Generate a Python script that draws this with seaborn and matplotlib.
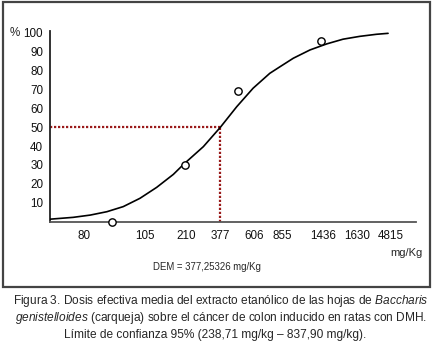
import matplotlib
matplotlib.use('Agg')
from matplotlib import pyplot as plt
from matplotlib import font_manager
from matplotlib.patches import Rectangle
from matplotlib.transforms import ScaledTranslation
import seaborn as sns
import pandas as pd

# tick positions (categorical dose steps) and their labels
dose_pos = [0, 1, 2, 3, 4, 5, 6, 7, 8, 9]
dose_labels = ['80', '', '105', '210', '377', '606', '855', '1436', '1630', '4815']

# observed points (position on dose axis, % response)
obs_pos = [0.82, 2.96, 4.52, 6.95]
obs_pct = [0, 30, 69, 96]

# fitted curve
curve_pos = [-1.02, -0.32, 0.18, 0.67, 1.15, 1.64, 2.13, 2.62, 2.93, 3.50, 4.0,
             4.48, 4.96, 5.45, 5.75, 6.14, 6.63, 7.12, 7.60, 8.09, 8.58, 8.92]
curve_pct = [1.2, 2.2, 3.4, 5.2, 7.9, 12.3, 18.1, 25.0, 30.5, 39.7, 50.0,
             60.9, 70.7, 78.6, 82.1, 86.6, 91.0, 94.2, 96.7, 98.2, 99.3, 99.8]

dem_pos = [4.0]
dem_pct = [50]

y_ticks = [10, 20, 30, 40, 50, 60, 70, 80, 90, 100]

sns.set_style('white')
names = {f.name for f in font_manager.fontManager.ttflist}
base = 'Liberation Sans' if 'Liberation Sans' in names else 'DejaVu Sans'
plt.rcParams['font.family'] = [base, 'DejaVu Sans']
plt.rcParams['mathtext.fontset'] = 'custom'
plt.rcParams['mathtext.rm'] = base
plt.rcParams['mathtext.it'] = base + ':italic'

W, H = 435, 345
fig = plt.figure(figsize=(W / 100, H / 100), dpi=100)
fig.patch.set_facecolor('white')

# outer frame
fig.patches.append(Rectangle((3 / W, 1 - 287 / H), 427 / W, 285 / H,
                             transform=fig.transFigure, fill=False,
                             edgecolor='#444444', lw=1.6))

ax = fig.add_axes([50 / W, 1 - 221.5 / H, 366 / W, 190.8 / H])
curve_df = pd.DataFrame({'pos': curve_pos, 'pct': curve_pct})
obs_df = pd.DataFrame({'pos': obs_pos, 'pct': obs_pct})

xmin, xmax = -1.0, 9.74
red = '#9a1a1a'
ax.plot([xmin, dem_pos[0]], [dem_pct[0], dem_pct[0]], color=red, lw=1.6,
        linestyle=(0, (1, 0.8)), zorder=2)
ax.plot([dem_pos[0], dem_pos[0]], [0, dem_pct[0]], color=red, lw=1.6,
        linestyle=(0, (1, 0.8)), zorder=2)

sns.lineplot(data=curve_df, x='pos', y='pct', ax=ax, color='black', lw=1.2,
             zorder=3, sort=False)
sns.scatterplot(data=obs_df, x='pos', y='pct', ax=ax, s=28, marker='o',
                facecolor='white', edgecolor='black', linewidth=1.0,
                zorder=4, clip_on=False)

ax.set_xlim(xmin, xmax)
ax.set_ylim(0, 101.2)
ax.set_xticks(dose_pos)
ax.set_xticklabels(dose_labels)
ax.set_yticks(y_ticks)
ax.set_xlabel('')
ax.set_ylabel('')
for s in ['top', 'right']:
    ax.spines[s].set_visible(False)
ax.spines['left'].set_color('#222222')
ax.spines['left'].set_linewidth(1.3)
ax.spines['bottom'].set_color('#555555')
ax.spines['bottom'].set_linewidth(1.3)
ax.tick_params(axis='both', direction='inout', length=4, width=1.1,
               labelsize=8.4, colors='#111111')
ax.tick_params(axis='x', pad=4)
ax.tick_params(axis='y', pad=3)
ax.set_facecolor('white')

# some labels sit a bit left of their tick in the original
shift = {'105': -0.07, '855': -0.06}
for lab in ax.get_xticklabels():
    dx = shift.get(lab.get_text())
    if dx:
        lab.set_transform(lab.get_transform() + ScaledTranslation(dx, 0, fig.dpi_scale_trans))

fig.text(10 / W, 1 - 33 / H, '%', fontsize=8.4, va='center', ha='left')
fig.text(423 / W, 1 - 253 / H, 'mg/Kg', fontsize=8.0, va='center', ha='right')
fig.text(207 / W, 1 - 267 / H, 'DEM = 377,25326 mg/Kg', fontsize=6.9,
         va='center', ha='center')

cap = dict(fontsize=8.6, ha='center', va='center')
fig.text(221 / W, 1 - 301 / H,
         r'Figura 3. Dosis efectiva media del extracto etanólico de las hojas de $\mathit{Baccharis}$',
         **cap)
fig.text(221 / W, 1 - 318 / H,
         r'$\mathit{genistelloides}$ (carqueja) sobre el cáncer de colon inducido en ratas con DMH.',
         **cap)
fig.text(215 / W, 1 - 335 / H,
         'Límite de confianza 95% (238,71 mg/kg – 837,90 mg/kg).', **cap)

fig.savefig('out.png', dpi=100, facecolor='white')
